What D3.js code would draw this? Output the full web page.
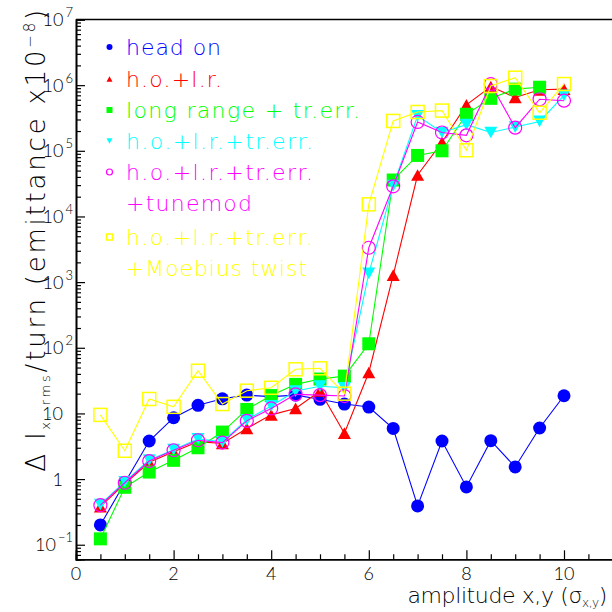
<!DOCTYPE html>
<html><head><meta charset="utf-8">
<script src="https://cdn.jsdelivr.net/npm/d3@7/dist/d3.min.js"></script>
<style>
html,body{margin:0;padding:0;background:#fff;}
svg{display:block;font-family:"Lato","DejaVu Sans",sans-serif;font-weight:300;}
.wide{font-family:"DejaVu Sans",sans-serif;font-weight:200;}
</style></head>
<body>
<svg id="c" width="612" height="612"></svg>
<script>
// ---- data ----
const amplitude = [0.5,1,1.5,2,2.5,3,3.5,4,4.5,5,5.5,6,6.5,7,7.5,8,8.5,9,9.5,10];
const headOn   = [0.2,0.88,3.8,8.6,13.3,16.7,19,18,19,16.4,13.9,12.5,5.9,0.39,3.8,0.76,3.84,1.53,6.0,18.6];
const hoLr     = [0.38,0.85,1.8,2.6,3.7,3.5,5.9,9.5,11.9,22,5.0,42,1280,42800,1.35e5,5e5,9.5e5,6.5e5,8.5e5,8.7e5];
const lrTrErr  = [0.123,0.75,1.28,1.93,3.0,5.2,11.5,18.7,27.7,33.4,37,115,35900,85000,1.0e5,3.6e5,6.3e5,8.7e5,9.3e5];
const hoLrTr   = [0.41,0.91,1.95,2.8,4.1,3.7,8.0,13,21.9,26,24.6,1360,29400,3.4e5,1.9e5,2.5e5,1.9e5,2.3e5,2.8e5,7e5];
const tunemod  = [0.40,0.88,1.88,2.75,3.9,3.6,7.7,11.9,19.5,19,18.4,3340,28800,2.75e5,1.9e5,1.72e5,1.04e6,2.25e5,6.1e5,5.8e5];
const moebius  = [9.5,2.7,16.6,12.6,44.7,13.9,22.2,24.6,47,48.7,20,15300,2.85e5,3.9e5,4.1e5,1.02e5,9.7e5,1.3e6,3.8e5,1.04e6];
const xTickLabels = [0,2,4,6,8,10];
const yTickExps = [-1,0,1,2,3,4,5,6,7];
const seriesNames = ["head on","h.o.+l.r.","long range + tr.err.","h.o.+l.r.+tr.err.","h.o.+l.r.+tr.err.","h.o.+l.r.+tr.err."];
const seriesNames2 = [null,null,null,null,"+tunemod","+Moebius twist"];
const seriesColors = ["#0000ff","#ff0000","#00ff00","#00ffff","#ff00ff","#ffff00"];
const seriesMarkers = ["circle","triUp","square","triDown","openCircle","openSquare"];
const seriesValues = [headOn,hoLr,lrTrErr,hoLrTr,tunemod,moebius];

// ---- layout ----
const L=76, R=612.8, T=19.5, B=559.3;
const svg = d3.select("#c");
const x = d3.scaleLinear().domain([0,11]).range([L,R]);
const y = d3.scaleLog().domain([0.06,1e7]).range([B,T]);

function fitWidth(sel, target){
  const node = sel.node();
  const n = node.textContent.length;
  const w = node.getComputedTextLength();
  sel.attr("letter-spacing", ((target - w)/(n-1)).toFixed(2));
}

// frame top line
svg.append("line").attr("x1",L).attr("x2",612).attr("y1",T).attr("y2",T)
  .attr("stroke","#000").attr("stroke-width",1.3);

// x axis
const xMinor = d3.range(0,11.01,0.5).filter(v=>v%2!==0);
const gx = svg.append("g").attr("transform",`translate(0,${B})`);
gx.call(d3.axisBottom(x).tickValues(xMinor).tickSize(-5).tickFormat(""));
gx.call(g=>g.append("g").call(d3.axisBottom(x).tickValues(xTickLabels).tickSize(-9).tickFormat("")));
gx.selectAll(".domain").attr("stroke","#000").attr("stroke-width",1.6);
gx.selectAll("line").attr("stroke","#000").attr("stroke-width",1.2);
svg.selectAll(".xl").data(xTickLabels).enter().append("text")
  .attr("x",d=>x(d)).attr("y",579.5).attr("text-anchor","middle")
  .attr("font-size",18).attr("fill","#000").text(d=>d);

// y axis
const yMinor = [];
for(let e=-2;e<7;e++) for(let m=2;m<=9;m++){const v=m*Math.pow(10,e); if(v>=0.06&&v<=1e7) yMinor.push(v);}
const gy = svg.append("g").attr("transform",`translate(${L},0)`);
gy.call(d3.axisLeft(y).tickValues(yMinor).tickSize(-5).tickFormat(""));
gy.call(g=>g.append("g").call(d3.axisLeft(y).tickValues(yTickExps.map(e=>Math.pow(10,e))).tickSize(-9).tickFormat("")));
gy.selectAll(".domain").attr("stroke","#000").attr("stroke-width",1.6);
gy.selectAll("line").attr("stroke","#000").attr("stroke-width",1.2);
yTickExps.forEach(e=>{
  const yy = y(Math.pow(10,e));
  if(e===0){ svg.append("text").attr("x",63).attr("y",yy+6.5).attr("text-anchor","end").attr("font-size",18).text("1"); }
  else if(e===1){ svg.append("text").attr("x",63).attr("y",yy+6.5).attr("text-anchor","end").attr("font-size",18).text("10"); }
  else {
    const t = svg.append("text").attr("x",73).attr("y",yy+6.5).attr("text-anchor","end").attr("font-size",18);
    t.append("tspan").text("10");
    t.append("tspan").attr("dx",2).attr("dy",-9).attr("font-size",13).text(e<0?"\u2212"+(-e):String(e));
  }
});

// axis titles
const xt = svg.append("text").attr("class","wide").attr("x",607).attr("y",603).attr("text-anchor","end").attr("font-size",22);
xt.append("tspan").text("amplitude x,y (\u03c3");
xt.append("tspan").attr("dy",4).attr("font-size",12).text("x,y");
xt.append("tspan").attr("dy",-4).text(")");
fitWidth(xt, 200);

const yt = svg.append("text").attr("class","wide").attr("transform","translate(45,7) rotate(-90)").attr("text-anchor","end").attr("font-size",26);
yt.append("tspan").text("\u0394 I");
yt.append("tspan").attr("dy",5).attr("font-size",13).text("x, rms");
yt.append("tspan").attr("dy",-5).text("/turn (emittance x10");
yt.append("tspan").attr("dy",-10).attr("font-size",15).text("\u22128");
yt.append("tspan").attr("dy",10).text(")");
fitWidth(yt, 462);

// markers
function drawMarker(g, type, cx, cy, s, color){
  if(type==="circle") g.append("circle").attr("cx",cx).attr("cy",cy).attr("r",s/2).attr("fill",color);
  else if(type==="openCircle") g.append("circle").attr("cx",cx).attr("cy",cy).attr("r",s/2).attr("fill","none").attr("stroke",color).attr("stroke-width",1.2);
  else if(type==="square") g.append("rect").attr("x",cx-s/2).attr("y",cy-s/2).attr("width",s).attr("height",s).attr("fill",color);
  else if(type==="openSquare") g.append("rect").attr("x",cx-s/2).attr("y",cy-s/2).attr("width",s).attr("height",s).attr("fill","none").attr("stroke",color).attr("stroke-width",1.5);
  else if(type==="triUp"){ const h=s*0.9; g.append("path").attr("d",`M${cx-s/2},${cy+h/2}L${cx+s/2},${cy+h/2}L${cx},${cy-h/2}Z`).attr("fill",color); }
  else if(type==="triDown"){ const h=s*0.9; g.append("path").attr("d",`M${cx-s/2},${cy-h/2}L${cx+s/2},${cy-h/2}L${cx},${cy+h/2}Z`).attr("fill",color); }
}

const line = d3.line().x(d=>x(d[0])).y(d=>y(d[1]));
seriesValues.forEach((vals,i)=>{
  const g = svg.append("g");
  const pts = vals.map((v,j)=>[amplitude[j],v]);
  g.append("path").datum(pts).attr("d",line).attr("fill","none").attr("stroke",seriesColors[i]).attr("stroke-width",1.1);
  pts.forEach(p=>drawMarker(g,seriesMarkers[i],x(p[0]),y(p[1]),13,seriesColors[i]));
});

// legend
const legY = [47,79,110,141,172,203,237,268];
const legW = [95,96,234,187,187,187];
const legW2 = [0,0,0,0,126,181];
let row=0;
seriesNames.forEach((n,i)=>{
  const yy = legY[row];
  drawMarker(svg,seriesMarkers[i],109.5,yy,6,seriesColors[i]);
  const t = svg.append("text").attr("class","wide").attr("x",126).attr("y",yy+7.5).attr("font-size",22).attr("fill",seriesColors[i]).text(n);
  fitWidth(t, legW[i]);
  row++;
  if(seriesNames2[i]){
    const t2 = svg.append("text").attr("class","wide").attr("x",126).attr("y",legY[row]+7.5).attr("font-size",22).attr("fill",seriesColors[i]).text(seriesNames2[i]);
    fitWidth(t2, legW2[i]);
    row++;
  }
});
</script>
</body></html>
